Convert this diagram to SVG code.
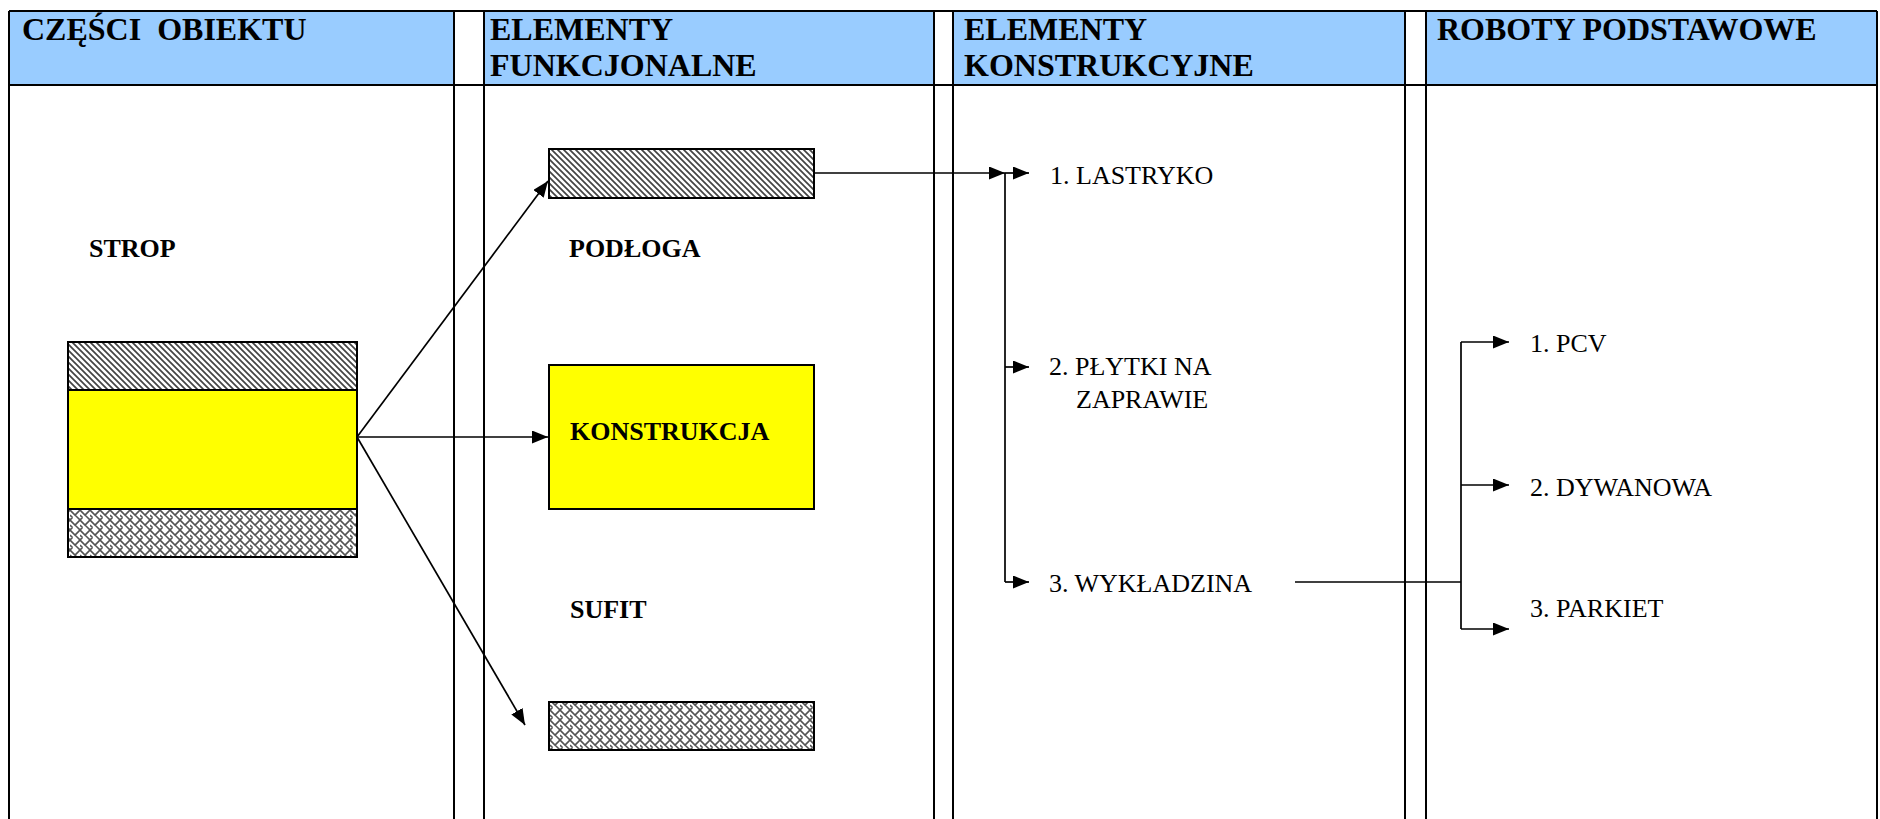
<svg xmlns="http://www.w3.org/2000/svg" width="1880" height="819" viewBox="0 0 1880 819">
<style>
.hdr{font-family:"Liberation Serif","Times New Roman",serif;font-weight:bold;font-size:32px;fill:#000;white-space:pre}
.lbl{font-family:"Liberation Serif","Times New Roman",serif;font-weight:bold;font-size:26px;fill:#000}
.txt{font-family:"Liberation Serif","Times New Roman",serif;font-size:26px;fill:#000}
.grid{stroke:#000;stroke-width:2;fill:none}
.band{fill:#99CCFF}
.box{stroke:#000;stroke-width:2}
.con{stroke:#000;stroke-width:1.7;fill:none}
.arr{marker-end:url(#ah)}
</style>
<defs>
<marker id="ah" markerUnits="userSpaceOnUse" markerWidth="16" markerHeight="13" refX="16" refY="6.5" orient="auto">
<path d="M0,0 L16,6.5 L0,13 z" fill="#000"/>
</marker>
<pattern id="diag" width="6" height="6" patternUnits="userSpaceOnUse">
<rect width="6" height="6" fill="#fff"/>
<path d="M-1,-1 L7,7 M-1,5 L1,7 M5,-1 L7,1" stroke="#444" stroke-width="1.7"/>
</pattern>
<pattern id="weave" width="10" height="10" patternUnits="userSpaceOnUse">
<rect width="10" height="10" fill="#fff"/>
<path d="M0,0 L5,5 L10,0 M0,10 L2.5,7.5 M10,10 L7.5,7.5 M5,5 L7.5,7.5 M0,5 L2.5,7.5" stroke="#555" stroke-width="1.6" fill="none"/>
</pattern>
</defs>

<g id="table">
<rect class="band" x="9" y="11" width="445" height="74"/>
<rect class="band" x="484" y="11" width="450" height="74"/>
<rect class="band" x="953" y="11" width="452" height="74"/>
<rect class="band" x="1426" y="11" width="451" height="74"/>
<path class="grid" d="M9,11 H1877 M9,85 H1877 M9,11 V819 M454,11 V819 M484,11 V819 M934,11 V819 M953,11 V819 M1405,11 V819 M1426,11 V819 M1877,11 V819"/>
<text class="hdr" x="22" y="40">CZĘŚCI  OBIEKTU</text>
<text class="hdr" x="490" y="40">ELEMENTY</text>
<text class="hdr" x="490" y="76">FUNKCJONALNE</text>
<text class="hdr" x="964" y="40">ELEMENTY</text>
<text class="hdr" x="964" y="76">KONSTRUKCYJNE</text>
<text class="hdr" x="1437" y="40">ROBOTY PODSTAWOWE</text>
</g>

<g id="strop">
<text class="lbl" x="89" y="257">STROP</text>
<rect class="box" x="68" y="342" width="289" height="48" fill="url(#diag)"/>
<rect class="box" x="68" y="390" width="289" height="119" fill="#FFFF00"/>
<rect class="box" x="68" y="509" width="289" height="48" fill="url(#weave)"/>
</g>

<g id="podloga">
<rect class="box" x="549" y="149" width="265" height="49" fill="url(#diag)"/>
<text class="lbl" x="569" y="257">PODŁOGA</text>
</g>

<g id="konstrukcja">
<rect class="box" x="549" y="365" width="265" height="144" fill="#FFFF00"/>
<text class="lbl" x="570" y="440">KONSTRUKCJA</text>
</g>

<g id="sufit">
<text class="lbl" x="570" y="618">SUFIT</text>
<rect class="box" x="549" y="702" width="265" height="48" fill="url(#weave)"/>
</g>

<g id="konstr-list">
<text class="txt" x="1050" y="184">1. LASTRYKO</text>
<text class="txt" x="1049" y="375">2. PŁYTKI NA</text>
<text class="txt" x="1076" y="408">ZAPRAWIE</text>
<text class="txt" x="1049" y="592">3. WYKŁADZINA</text>
</g>

<g id="roboty-list">
<text class="txt" x="1530" y="352">1. PCV</text>
<text class="txt" x="1530" y="496">2. DYWANOWA</text>
<text class="txt" x="1530" y="617">3. PARKIET</text>
</g>

<g id="connectors">
<line class="con arr" x1="357" y1="437" x2="548" y2="181"/>
<line class="con arr" x1="357" y1="437" x2="548" y2="437"/>
<line class="con arr" x1="357" y1="437" x2="525" y2="725"/>
<line class="con arr" x1="814" y1="173" x2="1005" y2="173"/>
<line class="con" x1="1005" y1="173" x2="1005" y2="582"/>
<line class="con arr" x1="1005" y1="173" x2="1029" y2="173"/>
<line class="con arr" x1="1005" y1="367" x2="1029" y2="367"/>
<line class="con arr" x1="1005" y1="582" x2="1029" y2="582"/>
<line class="con" x1="1295" y1="582" x2="1461" y2="582"/>
<line class="con" x1="1461" y1="342" x2="1461" y2="629"/>
<line class="con arr" x1="1461" y1="342" x2="1509" y2="342"/>
<line class="con arr" x1="1461" y1="485" x2="1509" y2="485"/>
<line class="con arr" x1="1461" y1="629" x2="1509" y2="629"/>
</g>
</svg>
